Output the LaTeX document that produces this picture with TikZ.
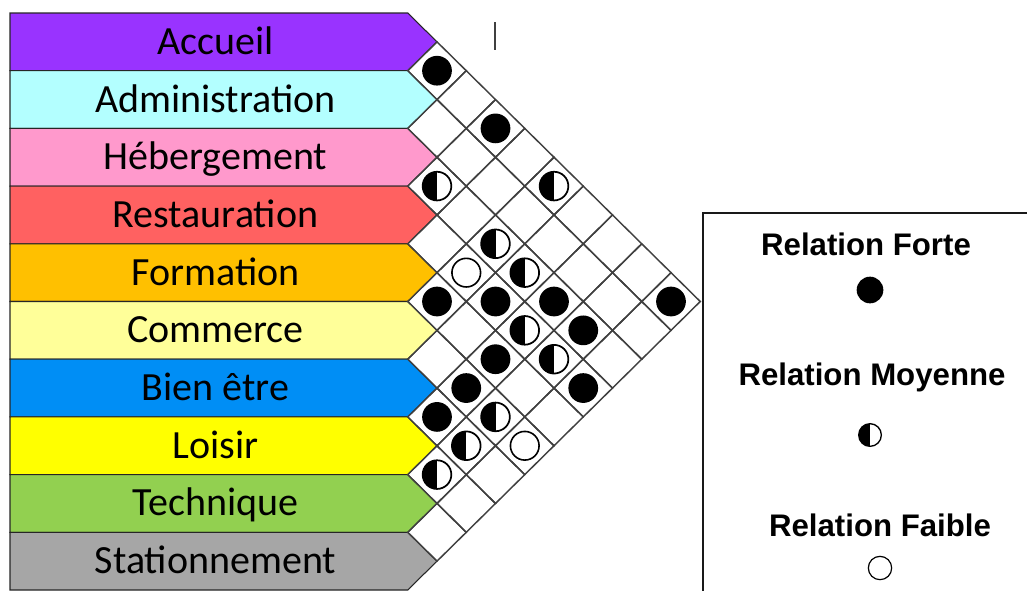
\documentclass[tikz,border=0pt]{standalone}
\usepackage{fontspec}
\setmainfont{Carlito}
\newfontfamily\legendfont{Liberation Sans}
\definecolor{accueilc}{HTML}{9933FF}
\definecolor{adminc}{HTML}{B3FFFF}
\definecolor{hebergc}{HTML}{FF99CC}
\definecolor{restoc}{HTML}{FF6161}
\definecolor{formc}{HTML}{FFC000}
\definecolor{commc}{HTML}{FFFF99}
\definecolor{bienc}{HTML}{008EF5}
\definecolor{loisc}{HTML}{FFFF00}
\definecolor{techc}{HTML}{92D050}
\definecolor{statc}{HTML}{A6A6A6}
\definecolor{gridc}{HTML}{404040}
\begin{document}
\begin{tikzpicture}[x=0.75pt,y=-0.75pt,
  rowshape/.style={draw=black!85, line width=0.8pt},
  rowlabel/.style={font=\fontsize{30}{35}\selectfont, anchor=base, inner sep=0pt},
  gridline/.style={draw=gridc, line width=1.1pt},
  strong/.style={circle, fill=black, inner sep=0pt, minimum size=22.3pt},
  medium/.style={circle, draw=black, line width=1.3pt, fill=white, inner sep=0pt, minimum size=21.5pt,
    path picture={\fill[black] (path picture bounding box.south west) rectangle (path picture bounding box.north);}},
  weak/.style={circle, draw=black, line width=1.2pt, fill=white, inner sep=0pt, minimum size=21.5pt},
  legtext/.style={font=\legendfont\bfseries\fontsize{23.4}{28}\selectfont, anchor=base, inner sep=0pt},
  strongL/.style={strong, minimum size=20pt},
  mediumL/.style={medium, minimum size=17pt, line width=1pt},
  weakL/.style={weak, minimum size=17.5pt, line width=0.9pt}]
\useasboundingbox (0,0) rectangle (1027,590);
\clip (0,0) rectangle (1027,590);
% rows
\foreach \lab/\col [count=\k from 0] in {Accueil/accueilc, Administration/adminc, Hébergement/hebergc, Restauration/restoc, Formation/formc, Commerce/commc, Bien être/bienc, Loisir/loisc, Technique/techc, Stationnement/statc}{
  \pgfmathsetmacro\yt{13+57.7*\k}
  \pgfmathsetmacro\yb{\yt+57.7}
  \pgfmathsetmacro\yc{\yt+28.85}
  \filldraw[rowshape, fill=\col] (10,\yt) -- (407.75,\yt) -- (437,\yc) -- (407.75,\yb) -- (10,\yb) -- cycle;
  \node[rowlabel] (r\k) at (215.5,\yc+12.5) {\lab};
}
% grid of cells
\foreach \i in {0,...,8}{
  \pgfmathtruncatemacro\ja{\i+1}
  \foreach \j in {\ja,...,9}{
    \pgfmathsetmacro\cx{437+29.25*(\j-\i-1)}
    \pgfmathsetmacro\cy{13+28.85*(\i+\j+1)}
    \draw[gridline] (\cx-29.25,\cy) -- (\cx,\cy-28.85) -- (\cx+29.25,\cy) -- (\cx,\cy+28.85) -- cycle;
    \coordinate (c\i-\j) at (\cx,\cy);
  }
}
% relations
\foreach \a/\b in {0/1,0/3,4/5,3/6,2/7,0/9,2/8,4/7,5/7,3/9,6/7}{
  \node[strong] (s\a-\b) at (c\a-\b) {};
}
\foreach \a/\b in {2/3,0/5,2/5,2/6,3/7,3/8,5/8,6/8,7/8}{
  \node[medium] (m\a-\b) at (c\a-\b) {};
}
\foreach \a/\b in {3/5,5/9}{
  \node[weak] (w\a-\b) at (c\a-\b) {};
}
% stray mark
\draw[black!75, line width=0.8pt] (495,22) -- (495,50);
% legend
\draw[black!90, line width=1.1pt] (703,213) rectangle (1040,600);
\node[legtext] (lf) at (866,255) {Relation Forte};
\node[strongL] (kf) at (870,290) {};
\node[legtext] (lm) at (872,385) {Relation Moyenne};
\node[mediumL] (km) at (870,435) {};
\node[legtext] (lw) at (880,536) {Relation Faible};
\node[weakL] (kw) at (880,568) {};
\end{tikzpicture}
\end{document}
